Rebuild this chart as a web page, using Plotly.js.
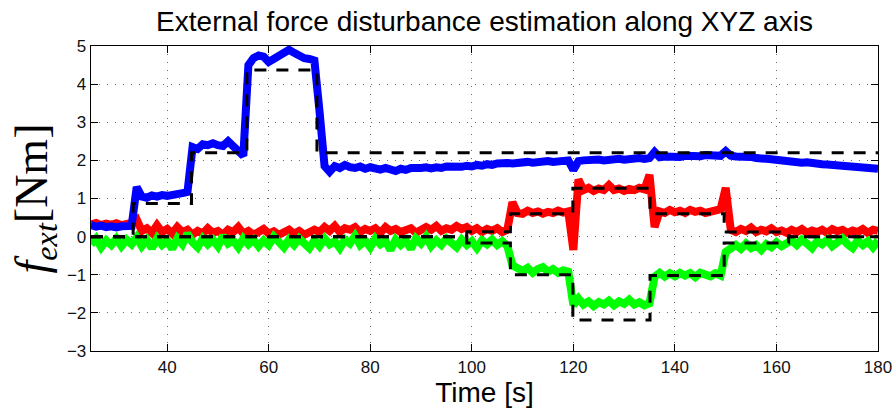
<!DOCTYPE html>
<html>
<head>
<meta charset="utf-8">
<script src="https://cdn.plot.ly/plotly-3.0.1.min.js"></script>
<style>html,body{margin:0;padding:0;background:#fff;}#chart{width:896px;height:412px;}</style>
</head>
<body>
<div id="chart"></div>
<script>
// Time samples [s]
const time = [25,26,27,28,29,30,31,32,33,34,35,36,37,38,39,40,41,42,43,44,45,46,47,48,49,50,51,52,53,54,55,56,57,58,59,60,61,62,63,64,65,66,67,68,69,70,71,72,73,74,75,76,77,78,79,80,81,82,83,84,85,86,87,88,89,90,91,92,93,94,95,96,97,98,99,100,101,102,103,104,105,106,107,108,109,110,111,112,113,114,115,116,117,118,119,120,121,122,123,124,125,126,127,128,129,130,131,132,133,134,135,136,137,138,139,140,141,142,143,144,145,146,147,148,149,150,151,152,153,154,155,156,157,158,159,160,161,162,163,164,165,166,167,168,169,170,171,172,173,174,175,176,177,178,179,180];

// Estimated external force, X axis (blue)
const estX = [0.30,0.26,0.29,0.25,0.27,0.24,0.27,0.25,0.28,
1.30,1.05,1.02,1.08,1.05,1.09,1.07,1.11,1.10,1.14,1.17,
2.35,2.30,2.42,2.40,2.45,2.40,2.38,2.50,2.35,2.22,2.12,
4.50,4.68,4.75,4.72,4.58,4.66,4.78,4.85,4.90,4.82,4.72,4.68,4.66,4.62,
3.30,1.85,1.70,1.85,1.80,1.88,1.82,1.80,1.84,1.78,
1.82,1.80,1.76,1.80,1.74,1.72,1.78,1.75,1.80,1.78,
1.80,1.82,1.79,1.82,1.80,1.84,1.82,1.85,1.83,1.86,
1.84,1.88,1.86,1.90,1.88,1.92,1.90,1.93,1.92,1.94,
1.93,1.96,1.94,1.97,1.95,1.98,1.96,1.99,1.97,2.00,
1.75,1.98,2.00,2.02,1.99,2.02,2.00,2.03,2.01,2.04,
2.02,2.05,2.03,2.06,2.04,2.06,2.22,2.08,2.10,2.08,
2.11,2.09,2.12,2.10,2.13,2.11,2.14,2.12,2.14,2.12,
2.24,2.12,2.10,2.11,2.08,2.09,2.06,2.07,2.04,2.03,
2.01,2.00,1.98,1.97,1.96,1.94,1.95,1.92,1.93,1.90,
1.89,1.88,1.87,1.86,1.84,1.85,1.82,1.83,1.80,1.81,1.78];

// Estimated external force, Y axis (red)
const estY = [0.32,0.36,0.30,0.34,0.31,0.35,0.30,0.33,0.36,
0.45,0.15,0.22,0.10,0.30,0.12,0.20,0.08,0.25,0.12,
0.18,0.05,0.15,0.08,0.22,0.10,0.15,0.05,0.18,0.12,
0.25,0.08,0.15,0.05,0.12,0.20,0.08,0.14,0.05,0.12,
0.18,0.08,0.15,0.05,0.10,0.18,0.12,0.25,0.15,0.28,
0.12,0.22,0.18,0.25,0.12,0.20,0.15,0.22,0.10,0.25,
0.15,0.20,0.12,0.18,0.22,0.10,0.15,0.25,0.18,0.28,
0.15,0.22,0.18,0.28,0.20,0.25,0.15,0.22,0.12,0.20,
0.15,0.22,0.12,0.18,0.90,0.62,0.60,0.68,0.62,0.66,
0.60,0.65,0.62,0.68,0.63,0.66,-0.35,1.50,1.22,1.28,
1.20,1.26,1.22,1.35,1.22,1.26,1.20,1.25,1.22,1.28,
1.24,1.62,0.25,0.66,0.62,0.70,0.64,0.68,0.62,0.70,
0.65,0.68,0.62,0.66,0.70,0.72,1.28,0.18,0.12,0.20,
0.15,0.24,0.12,0.18,0.14,0.22,0.12,0.16,0.10,0.18,
0.12,0.20,0.10,0.16,0.12,0.18,0.10,0.20,0.14,0.18,
0.10,0.16,0.12,0.20,0.10,0.18,0.15];

// Estimated external force, Z axis (green)
const estZ = [-0.20,-0.05,-0.28,-0.10,-0.22,-0.05,-0.25,-0.08,-0.20,
-0.02,-0.25,-0.08,-0.30,-0.05,-0.22,-0.10,-0.32,-0.05,-0.20,
0.08,-0.15,-0.28,-0.05,-0.20,-0.08,-0.25,0.02,-0.18,-0.10,
-0.28,-0.05,-0.20,-0.08,-0.25,-0.10,-0.22,0.00,-0.18,-0.28,
-0.08,-0.22,-0.05,-0.18,-0.30,-0.10,-0.25,-0.05,-0.20,-0.12,
-0.30,-0.08,-0.18,0.02,-0.22,-0.10,-0.28,-0.05,-0.20,-0.12,
-0.35,-0.08,-0.22,-0.10,-0.32,-0.05,-0.18,0.00,-0.25,-0.10,
-0.22,-0.05,-0.20,-0.28,-0.08,-0.22,-0.12,-0.30,-0.10,-0.20,
-0.08,-0.22,-0.12,-0.25,-0.75,-0.80,-0.90,-0.82,-0.95,-0.85,
-0.80,-0.92,-0.85,-0.95,-0.88,-0.92,-1.80,-1.62,-1.78,-1.70,
-1.82,-1.72,-1.78,-1.68,-1.80,-1.70,-1.76,-1.65,-1.78,-1.72,
-1.80,-1.75,-1.05,-0.95,-1.05,-0.96,-1.04,-0.95,-1.02,-0.96,
-1.06,-0.95,-1.00,-1.04,-0.96,-1.02,-0.40,-0.28,-0.22,-0.32,
-0.18,-0.30,-0.22,-0.35,-0.20,-0.28,-0.15,-0.25,-0.18,-0.10,
-0.22,-0.08,-0.18,-0.30,-0.12,-0.20,-0.08,-0.25,-0.15,-0.05,
-0.20,-0.30,-0.10,-0.22,-0.12,-0.28,-0.10];

// Reference (applied) disturbances, step-wise
const refXTime = [25, 33.3, 44.8, 55.7, 69.5, 180];
const refXVal  = [0, 0.87, 2.2, 4.37, 2.2, 2.2];
const refYZTime = [25, 99, 107.6, 119.9, 135.1, 149.7, 162.4, 180];
const refYVal   = [0, 0.13, 0.6, 1.27, 0.6, 0.12, 0, 0];
const refZVal   = [0, -0.17, -1.0, -2.19, -1.02, -0.17, 0, 0];

const xTicks = [40, 60, 80, 100, 120, 140, 160, 180];
const yTicks = [-3, -2, -1, 0, 1, 2, 3, 4, 5];

const estLine = (c) => ({color: c, width: 8});
const refLine = {color: '#000', width: 3, dash: '12px,10px'};

const traces = [
  {x: time, y: estY, type: 'scatter', mode: 'lines', line: estLine('#ff0000'), hoverinfo: 'skip'},
  {x: time, y: estZ, type: 'scatter', mode: 'lines', line: estLine('#00ff00'), hoverinfo: 'skip'},
  {x: time, y: estX, type: 'scatter', mode: 'lines', line: estLine('#0000ff'), hoverinfo: 'skip'},
  {x: refXTime, y: refXVal, type: 'scatter', mode: 'lines', line: Object.assign({shape: 'hv'}, refLine)},
  {x: refYZTime, y: refYVal, type: 'scatter', mode: 'lines', line: Object.assign({shape: 'hv'}, refLine)},
  {x: refYZTime, y: refZVal, type: 'scatter', mode: 'lines', line: Object.assign({shape: 'hv'}, refLine)}
];

const axisCommon = {
  showline: true, linecolor: '#000', linewidth: 1.3, mirror: 'ticks',
  ticks: 'inside', ticklen: 7, tickcolor: '#000', tickwidth: 1,
  showgrid: true, gridcolor: '#666', gridwidth: 1, griddash: '1px,7px',
  zeroline: false,
  tickfont: {family: 'Liberation Sans, Arial, sans-serif', size: 17, color: '#111'}
};

const layout = {
  width: 896, height: 412,
  margin: {l: 91, r: 18, t: 46, b: 61},
  paper_bgcolor: '#fff', plot_bgcolor: '#fff',
  showlegend: false,
  title: {
    text: 'External force disturbance estimation along XYZ axis',
    font: {family: 'Liberation Sans, Arial, sans-serif', size: 28, color: '#000'},
    x: 0.5, xref: 'paper', xanchor: 'center',
    y: 1 - 21/412, yref: 'container', yanchor: 'middle'
  },
  xaxis: Object.assign({}, axisCommon, {
    range: [25, 180], tickvals: xTicks, ticktext: xTicks.map(String),
    title: {text: 'Time [s]', font: {family: 'Liberation Sans, Arial, sans-serif', size: 28, color: '#000'}, standoff: 6}
  }),
  yaxis: Object.assign({}, axisCommon, {
    range: [-3, 5], tickvals: yTicks,
    title: {text: '<i>f</i><sub><i>ext</i></sub>[Nm]', font: {family: 'Liberation Serif, DejaVu Serif, serif', size: 46, color: '#000'}, standoff: 4}
  })
};

Plotly.newPlot('chart', traces, layout, {staticPlot: true, displayModeBar: false});
</script>
</body>
</html>
